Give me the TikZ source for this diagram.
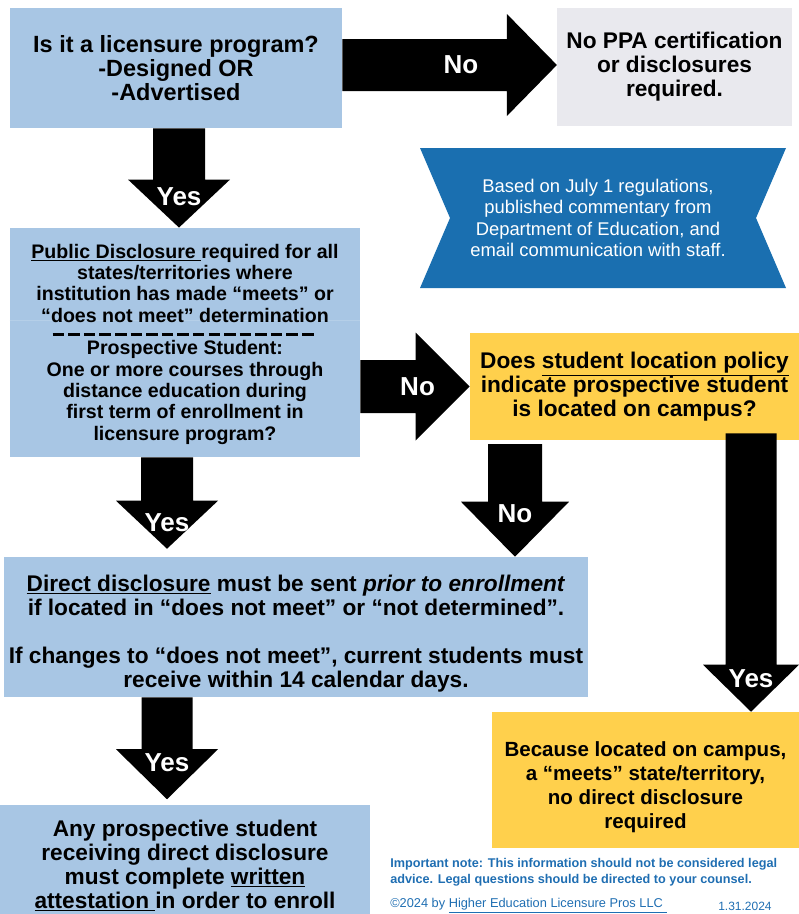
\documentclass[tikz,border=0pt]{standalone}
\usepackage{fontspec}
\setmainfont{Liberation Sans}
\usetikzlibrary{calc}

\definecolor{boxblue}{RGB}{168,198,228}
\definecolor{boxyellow}{RGB}{255,208,76}
\definecolor{boxgray}{RGB}{233,233,238}
\definecolor{bannerblue}{RGB}{26,111,176}
\definecolor{noteblue}{RGB}{31,110,178}

\newcommand{\dashrow}{\hbox to 199pt{\xleaders\hbox{\rule{8.6pt}{2.8pt}\hspace{2.8pt}}\hfill}}
\newcommand{\topstrut}[1]{\rule{0pt}{#1}}

% down / right block arrows: start, tip, half body, half head, head length, label back, label
\newcommand{\blockdown}[7]{%
  \fill[blockarrow] ($(#1)+(-#3,0)$) -- ($(#1)+(#3,0)$) -- ($(#2)+(#3,-#5)$) -- ($(#2)+(#4,-#5)$) -- (#2) -- ($(#2)+(-#4,-#5)$) -- ($(#2)+(-#3,-#5)$) -- cycle;
  \node[arrowlabel] (#2-lbl) at ($(#2)+(0,-#6)$) {#7};
}
\newcommand{\blockright}[7]{%
  \fill[blockarrow] ($(#1)+(0,-#3)$) -- ($(#2)+(-#5,-#3)$) -- ($(#2)+(-#5,-#4)$) -- (#2) -- ($(#2)+(-#5,#4)$) -- ($(#2)+(-#5,#3)$) -- ($(#1)+(0,#3)$) -- cycle;
  \node[arrowlabel] (#2-lbl) at ($(#2)+(-#6,0)$) {#7};
}

\begin{document}
\begin{tikzpicture}[x=0.75pt,y=-0.75pt,
  box/.style={rectangle,inner sep=0pt,align=center,text=black},
  bluebox/.style={box,fill=boxblue},
  yellowbox/.style={box,fill=boxyellow},
  graybox/.style={box,fill=boxgray},
  blockarrow/.style={fill=black},
  arrowlabel/.style={text=white,font=\fontsize{19.5}{22}\selectfont\bfseries,inner sep=0pt},
  bigtxt/.style={font=\fontsize{17}{18}\selectfont\bfseries},
  midtxt/.style={font=\fontsize{14.7}{16}\selectfont\bfseries}]
\useasboundingbox (0,0) rectangle (799,914);

\node[bluebox,font=\fontsize{17.6}{18}\selectfont\bfseries,minimum width=249pt,minimum height=90pt] (lic) at (176,68)
  {Is it a licensure program?\\-Designed OR\\-Advertised};
\node[graybox,bigtxt,minimum width=176pt,minimum height=89pt] (none) at (674.5,67)
  {No PPA certification\\or disclosures\\required.};

\fill[bannerblue] (420,148) -- (786,148) -- (756,218) -- (786,288) -- (420,288) -- (450,218) -- cycle;
\node[box,text=white,font=\fontsize{13.8}{16}\selectfont] (basis) at (598,218)
  {Based on July 1 regulations,\\published commentary from\\Department of Education, and\\email communication with staff.};

\node[bluebox,minimum width=262.5pt,minimum height=172pt] (pub) at (185,342.5) {};
\draw[boxblue!85!white,line width=0.6pt] (pub.west |- 0,320) -- (pub.east |- 0,320);
\node[box,midtxt] (pubtxt) at (185,283)
  {\underline{Public Disclosure }required for all\\states/territories where\\institution has made “meets” or\\“does not meet” determination};
\node[inner sep=0pt] (rule) at (pub.north |- 0,334.5) {\dashrow};
\node[box,midtxt] (protxt) at (185,392.5)
  {Prospective Student:\\One or more courses through\\distance education during\\first term of enrollment in\\licensure program?};

\node[yellowbox,bigtxt,minimum width=247pt,minimum height=80pt] (loc) at (634.5,386.5)
  {Does \underline{student location policy}\\indicate prospective student\\is located on campus?};

\node[bluebox,bigtxt,minimum width=438pt,minimum height=105pt] (direct) at (296,627)
  {\topstrut{22pt}\underline{Direct disclosure} must be sent \textit{prior to enrollment}\\if located in “does not meet” or “not determined”.\\[18pt]If changes to “does not meet”, current students must\\receive within 14 calendar days.};

\node[bluebox,bigtxt,minimum width=277.5pt,minimum height=82pt] (attest) at (185,859.5)
  {\topstrut{21pt}Any prospective student\\receiving direct disclosure\\must complete \underline{written}\\\underline{attestation }in order to enroll};

\node[yellowbox,font=\fontsize{15.4}{18}\selectfont\bfseries,minimum width=230pt,minimum height=102pt] (campus) at (645.5,780)
  {\topstrut{22pt}Because located on campus,\\a “meets” state/territory,\\no direct disclosure\\required};

\node[anchor=north west,align=left,inner sep=0pt,text=noteblue,font=\fontsize{9.5}{12}\selectfont\bfseries] (note) at (390,858)
  {Important note: This information should not be considered legal\\advice. Legal questions should be directed to your counsel.};
\node[anchor=west,inner sep=0pt,text=noteblue,font=\fontsize{9.6}{11}\selectfont] (copy) at (390,906)
  {©2024 by \underline{Higher Education Licensure Pros LLC }};
\node[anchor=west,inner sep=0pt,text=noteblue,font=\fontsize{9}{11}\selectfont] (date) at (718,906) {1.31.2024};

\coordinate (a1s) at (lic.east |- 0,65);
\coordinate (a1t) at (none.west |- 0,65);
\blockright{a1s}{a1t}{26}{51}{50}{96}{No}

\coordinate (a2s) at (pub.east |- loc.west);
\coordinate (a2t) at (loc.west);
\blockright{a2s}{a2t}{26.5}{54}{54}{52}{No}

\coordinate (a3s) at (lic.south -| 179,0);
\coordinate (a3t) at (pub.north -| 179,0);
\blockdown{a3s}{a3t}{26}{51}{48}{31}{Yes}

\coordinate (a4s) at (pub.south -| 167,0);
\coordinate[yshift=6pt] (a4t) at (direct.north -| 167,0);
\blockdown{a4s}{a4t}{26}{51}{48}{26}{Yes}

\coordinate[yshift=-3pt] (a5s) at (loc.south -| 515,0);
\coordinate (a5t) at (direct.north -| 515,0);
\blockdown{a5s}{a5t}{27}{54}{55}{43}{No}

\coordinate[yshift=5pt] (a6s) at (loc.south -| 751,0);
\coordinate (a6t) at (campus.north -| 751,0);
\blockdown{a6s}{a6t}{25.5}{48}{47}{33}{Yes}

\coordinate (a7s) at (direct.south -| 167,0);
\coordinate[yshift=4pt] (a7t) at (attest.north -| 167,0);
\blockdown{a7s}{a7t}{25.5}{51}{50}{37}{Yes}
\end{tikzpicture}
\end{document}
